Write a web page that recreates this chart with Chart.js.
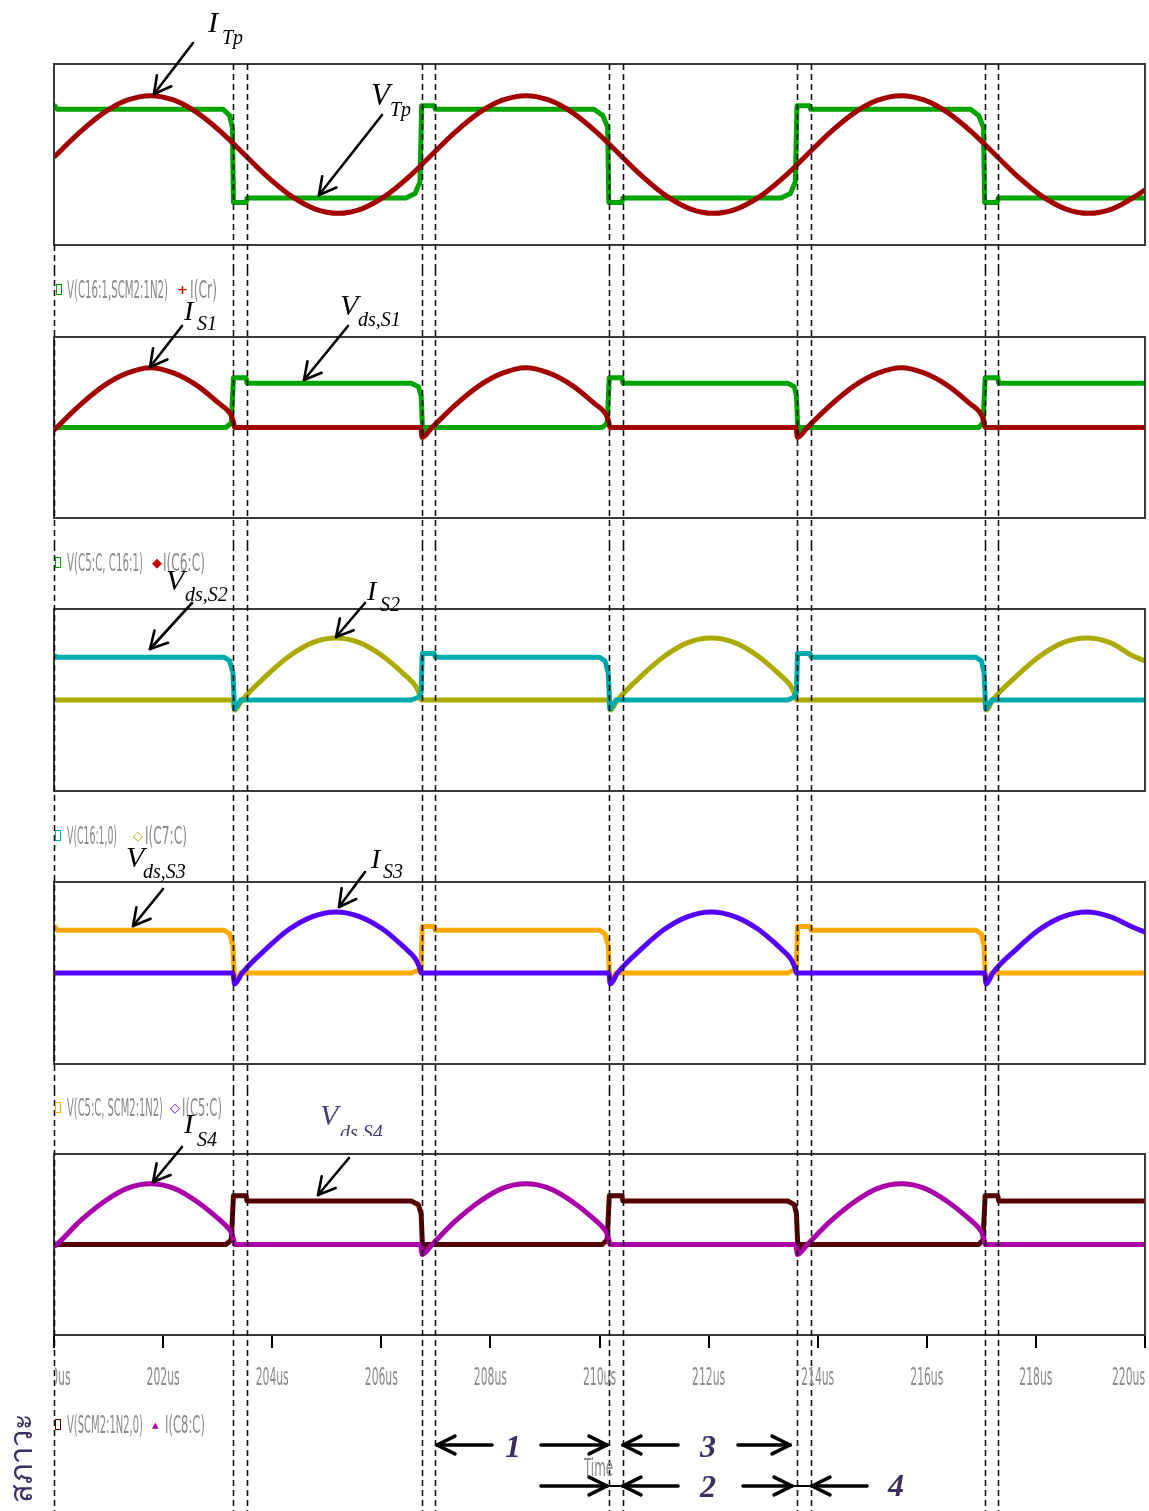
<!DOCTYPE html>
<html>
<head>
<meta charset="utf-8">
<script src="https://cdn.jsdelivr.net/npm/chart.js@4.4.1/dist/chart.umd.min.js"></script>
<style>
  html, body { margin:0; padding:0; background:#fff; }
  body { width:1149px; height:1511px; position:relative; overflow:hidden; }
  canvas { position:absolute; left:0; display:block; }
  .leg { position:absolute; white-space:nowrap; font-family:"DejaVu Sans Condensed","DejaVu Sans",sans-serif; font-size:24px; line-height:1; color:#8a8a8a; transform-origin:0 50%; }
  .mk { position:absolute; font-family:"DejaVu Sans",sans-serif; font-weight:bold; line-height:1; }
  .sq { position:absolute; width:4px; height:9px; background:#fff; }
  #ov { position:absolute; left:0; top:0; pointer-events:none; }
  #thai { position:absolute; left:21px; top:1458px; transform:translate(-50%,-50%) rotate(-90deg); font-size:31px; color:#3d2f5e; white-space:nowrap; font-family:"Noto Sans","DejaVu Sans",sans-serif; }
</style>
</head>
<body>
<canvas id="c1" width="1149" height="270" style="top:0px"></canvas>
<canvas id="c2" width="1149" height="275" style="top:270px"></canvas>
<canvas id="c3" width="1149" height="270" style="top:545px"></canvas>
<canvas id="c4" width="1149" height="275" style="top:815px"></canvas>
<canvas id="c5" width="1149" height="421" style="top:1090px"></canvas>
<div id="legs"></div>
<div id="thai">สภาวะ</div>
<svg id="ov" width="1149" height="1511" xmlns="http://www.w3.org/2000/svg"></svg>
<script>
// ---------------- DATA (time in us, normalised amplitude) ----------------
const xMin = 200, xMax = 220, xStep = 2;
const tickUnit = 'us';
const switchTimes = [203.29, 203.54, 206.74, 206.98, 210.17, 210.43, 213.62, 213.87, 217.06, 217.30];

// Panel 1 : I_Tp (transformer current) and V_Tp (transformer voltage)
const itpT = [200.00,200.05,200.48,200.91,201.34,201.77,202.20,202.63,203.06,203.49,203.92,204.35,204.78,205.21,205.64,206.07,206.50,206.93,207.36,207.79,208.22,208.65,209.08,209.51,209.94,210.37,210.80,211.23,211.66,212.09,212.52,212.95,213.38,213.81,214.24,214.67,215.10,215.53,215.96,216.39,216.82,217.25,217.68,218.11,218.54,218.97,219.40,219.83,220.00];
const itpV = [-0.03,0.00,0.25,0.46,0.60,0.65,0.60,0.46,0.25,0.00,-0.25,-0.46,-0.60,-0.65,-0.60,-0.46,-0.25,0.00,0.25,0.46,0.60,0.65,0.60,0.46,0.25,0.00,-0.25,-0.46,-0.60,-0.65,-0.60,-0.46,-0.25,0.00,0.25,0.46,0.60,0.65,0.60,0.46,0.25,0.00,-0.25,-0.46,-0.60,-0.65,-0.60,-0.46,-0.39];
const vtpT = [200.00,200.06,203.10,203.22,203.27,203.29,203.52,203.54,206.45,206.62,206.71,206.74,206.97,206.99,209.90,210.06,210.15,210.17,210.41,210.43,213.33,213.50,213.59,213.62,213.85,213.87,216.80,216.95,217.04,217.06,217.29,217.31,220.00];
const vtpV = [0.55,0.50,0.50,0.43,0.30,-0.53,-0.53,-0.48,-0.48,-0.43,-0.30,0.54,0.54,0.50,0.50,0.43,0.30,-0.53,-0.53,-0.48,-0.48,-0.43,-0.30,0.54,0.54,0.50,0.50,0.43,0.30,-0.53,-0.53,-0.48,-0.48];

// Panel 2 : I_S1 and V_ds,S1
const is1T = [200.00,200.05,200.48,200.91,201.34,201.77,202.20,202.63,203.06,203.18,203.25,203.29,203.31,206.72,206.75,206.93,207.36,207.79,208.22,208.65,209.08,209.51,209.94,210.06,210.13,210.17,210.19,213.60,213.63,213.81,214.24,214.67,215.10,215.53,215.96,216.39,216.82,216.94,217.01,217.05,217.07,220.00];
const is1V = [-0.03,0.00,0.25,0.46,0.60,0.66,0.60,0.46,0.25,0.19,0.13,0.06,0.00,0.00,-0.11,0.00,0.25,0.46,0.60,0.66,0.60,0.46,0.25,0.19,0.13,0.06,0.00,0.00,-0.11,0.00,0.25,0.46,0.60,0.66,0.60,0.46,0.25,0.19,0.13,0.06,0.00,0.00];
const vs1T = [200.00,203.15,203.25,203.29,203.52,203.54,206.55,206.68,206.73,206.76,206.80,210.05,210.14,210.18,210.41,210.43,213.45,213.57,213.61,213.64,213.68,216.95,217.03,217.07,217.30,217.32,220.00];
const vs1V = [0.00,0.00,0.05,0.55,0.55,0.49,0.49,0.45,0.35,-0.08,0.00,0.00,0.05,0.55,0.55,0.49,0.49,0.45,0.35,-0.08,0.00,0.00,0.05,0.55,0.55,0.49,0.49];

// Panel 3 : V_ds,S2 and I_S2
const vs2T = [200.00,200.06,203.12,203.22,203.28,203.31,203.36,203.42,206.55,206.68,206.73,206.75,206.97,206.99,210.00,210.10,210.16,210.19,210.24,210.30,213.45,213.56,213.61,213.63,213.86,213.88,216.90,217.00,217.05,217.08,217.13,217.19,220.00];
const vs2V = [0.49,0.47,0.47,0.43,0.30,-0.10,-0.06,0.00,0.00,0.03,0.08,0.51,0.51,0.47,0.47,0.43,0.30,-0.10,-0.06,0.00,0.00,0.03,0.08,0.51,0.51,0.47,0.47,0.43,0.30,-0.10,-0.06,0.00,0.00];
const is2T = [200.00,203.28,203.31,203.45,203.88,204.31,204.74,205.17,205.60,206.03,206.46,206.58,206.65,206.70,206.73,210.17,210.20,210.33,210.76,211.19,211.62,212.05,212.48,212.91,213.34,213.46,213.53,213.58,213.61,217.06,217.09,217.21,217.64,218.07,218.50,218.93,219.36,219.79,220.00];
const is2V = [0.00,0.00,-0.11,0.00,0.26,0.48,0.63,0.68,0.63,0.48,0.26,0.19,0.13,0.06,0.00,0.00,-0.11,0.00,0.26,0.48,0.63,0.68,0.63,0.48,0.26,0.19,0.13,0.06,0.00,0.00,-0.11,0.00,0.26,0.48,0.63,0.68,0.63,0.48,0.43];

// Panel 4 : V_ds,S3 and I_S3
const vs3T = [200.00,200.06,203.12,203.22,203.28,203.31,203.36,203.42,206.55,206.68,206.73,206.75,206.97,206.99,210.00,210.10,210.16,210.19,210.24,210.30,213.45,213.56,213.61,213.63,213.86,213.88,216.90,217.00,217.05,217.08,217.13,217.19,220.00];
const vs3V = [0.52,0.47,0.47,0.43,0.30,-0.11,-0.06,0.00,0.00,0.03,0.08,0.51,0.51,0.47,0.47,0.43,0.30,-0.11,-0.06,0.00,0.00,0.03,0.08,0.51,0.51,0.47,0.47,0.43,0.30,-0.11,-0.06,0.00,0.00];
const is3T = [200.00,203.28,203.31,203.45,203.88,204.31,204.74,205.17,205.60,206.03,206.46,206.58,206.65,206.70,206.73,210.17,210.20,210.33,210.76,211.19,211.62,212.05,212.48,212.91,213.34,213.46,213.53,213.58,213.61,217.06,217.09,217.21,217.64,218.07,218.50,218.93,219.36,219.79,220.00];
const is3V = [0.00,0.00,-0.12,0.00,0.26,0.48,0.62,0.67,0.62,0.48,0.26,0.19,0.13,0.06,0.00,0.00,-0.12,0.00,0.26,0.48,0.62,0.67,0.62,0.48,0.26,0.19,0.13,0.06,0.00,0.00,-0.12,0.00,0.26,0.48,0.62,0.67,0.62,0.50,0.45];

// Panel 5 : I_S4 and V_ds,S4
const is4T = [200.00,200.05,200.48,200.91,201.34,201.77,202.20,202.63,203.06,203.18,203.25,203.29,203.31,206.72,206.75,206.93,207.36,207.79,208.22,208.65,209.08,209.51,209.94,210.06,210.13,210.17,210.19,213.60,213.63,213.81,214.24,214.67,215.10,215.53,215.96,216.39,216.82,216.94,217.01,217.05,217.07,220.00];
const is4V = [-0.02,0.00,0.26,0.47,0.62,0.67,0.62,0.47,0.26,0.19,0.13,0.06,0.00,0.00,-0.11,0.00,0.26,0.47,0.62,0.67,0.62,0.47,0.26,0.19,0.13,0.06,0.00,0.00,-0.11,0.00,0.26,0.47,0.62,0.67,0.62,0.47,0.26,0.19,0.13,0.06,0.00,0.00];
const vs4T = [200.00,203.15,203.25,203.29,203.52,203.54,206.55,206.68,206.73,206.76,206.80,210.05,210.14,210.18,210.41,210.43,213.45,213.57,213.61,213.64,213.68,216.95,217.03,217.07,217.30,217.32,220.00];
const vs4V = [0.00,0.00,0.05,0.54,0.54,0.48,0.48,0.44,0.34,-0.09,0.00,0.00,0.05,0.54,0.54,0.48,0.48,0.44,0.34,-0.09,0.00,0.00,0.05,0.54,0.54,0.48,0.48];

// ---------------- helpers ----------------
const pts = (ts, vs) => ts.map((t, i) => ({x: t, y: vs[i]}));
function curve(ts, vs, color, smooth) {
  return { data: pts(ts, vs), borderColor: color, borderWidth: 5, pointRadius: 0, fill: false,
           cubicInterpolationMode: smooth ? 'monotone' : 'default', tension: 0,
           borderJoinStyle: 'round' };
}

function decoPlugin(first, withAxis) {
  return {
    id: 'deco',
    afterDatasetsDraw(chart) {
      const ctx = chart.ctx, a = chart.chartArea, x = chart.scales.x;
      ctx.save();
      ctx.strokeStyle = '#3a3a3a'; ctx.lineWidth = 2;
      ctx.strokeRect(a.left, a.top, a.right - a.left, a.bottom - a.top);
      ctx.setLineDash([6, 4]); ctx.lineWidth = 1.6; ctx.strokeStyle = '#111';
      const top0 = first ? a.top : 0;
      switchTimes.forEach(t => {
        const px = Math.round(x.getPixelForValue(t)) + 0.5;
        ctx.beginPath(); ctx.moveTo(px, top0); ctx.lineTo(px, chart.height); ctx.stroke();
      });
      const p0 = Math.round(x.getPixelForValue(xMin)) + 0.5;
      ctx.beginPath(); ctx.moveTo(p0, first ? a.bottom : 0); ctx.lineTo(p0, chart.height); ctx.stroke();
      ctx.restore();
    },
    afterDraw(chart) {
      if (!withAxis) return;
      const ctx = chart.ctx, sc = chart.scales.x;
      ctx.save();
      ctx.beginPath(); ctx.rect(sc.left + 1, 0, chart.width, chart.height); ctx.clip();
      ctx.font = '24px "DejaVu Sans Condensed","DejaVu Sans",sans-serif';
      ctx.fillStyle = '#8a8a8a'; ctx.textAlign = 'center'; ctx.textBaseline = 'middle';
      sc.ticks.forEach((t, i) => {
        let px = sc.getPixelForTick(i);
        const hw = ctx.measureText(t.label).width * 0.5 / 2;
        if (px + hw > sc.right) px = sc.right - hw;
        ctx.save(); ctx.translate(px, sc.top + 44); ctx.scale(0.5, 1);
        ctx.fillText(t.label, 0, 0); ctx.restore();
      });
      ctx.restore();
    }
  };
}

function makeChart(id, datasets, padTop, padBottom, withAxis, first) {
  return new Chart(document.getElementById(id), {
    type: 'line',
    data: { datasets },
    options: {
      responsive: false, animation: false, events: [], devicePixelRatio: 1,
      layout: { padding: { left: 54, right: 4, top: padTop, bottom: padBottom } },
      plugins: { legend: { display: false }, tooltip: { enabled: false } },
      scales: {
        x: {
          type: 'linear', min: xMin, max: xMax, display: withAxis,
          afterFit: withAxis ? (ax => { ax.height = 176; }) : undefined,
          ticks: { display: false, stepSize: xStep, callback: v => v + tickUnit },
          grid: { display: true, drawOnChartArea: false, drawTicks: true, tickLength: 13, color: '#000', lineWidth: 2 },
          border: { display: true, color: '#3a3a3a', width: 2 }
        },
        y: { min: -1, max: 1, display: false }
      }
    },
    plugins: [decoPlugin(first, withAxis)]
  });
}

makeChart('c1', [curve(itpT, itpV, '#a30000', true), curve(vtpT, vtpV, '#00a400', false)], 64, 25, false, true);
makeChart('c2', [curve(is1T, is1V, '#a30000', true), curve(vs1T, vs1V, '#00a400', false)], 67, 27, false, false);
makeChart('c3', [curve(vs2T, vs2V, '#00aaaa', false), curve(is2T, is2V, '#aaaa00', true)], 64, 24, false, false);
makeChart('c4', [curve(is3T, is3V, '#5500ff', true), curve(vs3T, vs3V, '#ffaa00', false)], 67, 26, false, false);
makeChart('c5', [curve(is4T, is4V, '#aa00aa', true), curve(vs4T, vs4V, '#550000', false)], 64, 0, true, false);

// ---------------- probe legends (simulator trace names) ----------------
const legendRows = [
  { y: 290, items: [ {k:'sq', c:'#00a400', x:56}, {k:'t', s:'V(C16:1,SCM2:1N2)', x:67, w:101}, {k:'g', s:'+', c:'#c00000', x:177}, {k:'t', s:'I(Cr)', x:190, w:27} ] },
  { y: 563, items: [ {k:'sq', c:'#00a400', x:55}, {k:'t', s:'V(C5:C, C16:1)', x:67, w:76}, {k:'g', s:'◆', c:'#c00000', x:152}, {k:'t', s:'I(C6:C)', x:163, w:42} ] },
  { y: 836, items: [ {k:'sq', c:'#00aaaa', x:55}, {k:'t', s:'V(C16:1,0)', x:67, w:50}, {k:'g', s:'◇', c:'#aaaa00', x:133}, {k:'t', s:'I(C7:C)', x:145, w:42} ] },
  { y:1108, items: [ {k:'sq', c:'#ffaa00', x:55}, {k:'t', s:'V(C5:C, SCM2:1N2)', x:67, w:96}, {k:'g', s:'◇', c:'#5500ff', x:170}, {k:'t', s:'I(C5:C)', x:182, w:40} ] },
  { y:1425, items: [ {k:'sq', c:'#550000', x:55}, {k:'t', s:'V(SCM2:1N2,0)', x:67, w:76}, {k:'g', s:'▴', c:'#aa00aa', x:152}, {k:'t', s:'I(C8:C)', x:165, w:40} ] },
  { y:1468, items: [ {k:'t', s:'Time', x:584, w:29} ] }
];
const legs = document.getElementById('legs');
legendRows.forEach(r => r.items.forEach(it => {
  const d = document.createElement('div');
  if (it.k === 'sq') {
    d.className = 'sq'; d.style.left = it.x + 'px'; d.style.top = (r.y - 6) + 'px';
    d.style.border = '1.5px solid ' + it.c;
  } else if (it.k === 'g') {
    d.className = 'mk'; d.textContent = it.s; d.style.color = it.c; d.style.fontSize = '13px';
    d.style.left = it.x + 'px'; d.style.top = (r.y - 7) + 'px';
  } else {
    d.className = 'leg'; d.textContent = it.s; d.style.left = it.x + 'px'; d.style.top = (r.y - 12) + 'px';
    legs.appendChild(d);
    const w = d.getBoundingClientRect().width;
    d.style.transform = 'scaleX(' + (it.w / w) + ')';
    return;
  }
  legs.appendChild(d);
}));

// ---------------- annotations ----------------
const NS = 'http://www.w3.org/2000/svg';
const svg = document.getElementById('ov');
const defs = document.createElementNS(NS, 'defs');
defs.innerHTML = '<clipPath id="cut"><rect x="300" y="1090" width="120" height="46"/></clipPath>';
svg.appendChild(defs);
function el(tag, attrs, parent) {
  const e = document.createElementNS(NS, tag);
  for (const k in attrs) e.setAttribute(k, attrs[k]);
  (parent || svg).appendChild(e); return e;
}
function line(x1, y1, x2, y2, w, col) {
  el('line', {x1, y1, x2, y2, stroke: col || '#000', 'stroke-width': w, 'stroke-linecap': 'round'});
}
function arrow(x1, y1, x2, y2, w, hl, ha) {
  line(x1, y1, x2, y2, w);
  const a = Math.atan2(y2 - y1, x2 - x1);
  [-1, 1].forEach(s => {
    const b = a + Math.PI + s * ha;
    line(x2, y2, x2 + hl * Math.cos(b), y2 + hl * Math.sin(b), w);
  });
}
function txt(s, x, y, size, opts) {
  opts = opts || {};
  const t = el('text', { x, y, 'font-family': '"Liberation Serif","DejaVu Serif",serif', 'font-style': 'italic',
    'font-size': size, fill: opts.fill || '#000', 'font-weight': opts.bold ? 'bold' : 'normal',
    'text-anchor': opts.anchor || 'start' }, opts.parent);
  if (opts.clip) t.setAttribute('clip-path', 'url(#cut)');
  t.textContent = s; return t;
}

const labels = [
  { m:'I', mx:208, my:32,  ms:30, sub:'Tp',    sx:222, sy:44,  tail:[193,43],   tip:[154,94] },
  { m:'V', mx:371, my:105, ms:31, sub:'Tp',    sx:390, sy:116, tail:[382,115],  tip:[319,195] },
  { m:'I', mx:184, my:320, ms:28, sub:'S1',    sx:197, sy:330, tail:[182,326],  tip:[150,367] },
  { m:'V', mx:340, my:315, ms:30, sub:'ds,S1', sx:358, sy:326, tail:[348,326],  tip:[304,380] },
  { m:'V', mx:166, my:590, ms:30, sub:'ds,S2', sx:185, sy:601, tail:[192,603],  tip:[150,649] },
  { m:'I', mx:367, my:600, ms:28, sub:'S2',    sx:380, sy:611, tail:[365,603],  tip:[336,637] },
  { m:'V', mx:126, my:867, ms:30, sub:'ds,S3', sx:143, sy:878, tail:[163,889],  tip:[133,926] },
  { m:'I', mx:371, my:868, ms:28, sub:'S3',    sx:383, sy:878, tail:[365,872],  tip:[339,907] },
  { m:'I', mx:184, my:1133,ms:28, sub:'S4',    sx:197, sy:1146,tail:[182,1147], tip:[153,1182] },
  { m:'V', mx:320, my:1125,ms:30, sub:'ds S4', sx:340, sy:1139,tail:[349,1158], tip:[318,1195], fill:'#4a3d6a', clip:true }
];
labels.forEach(l => {
  txt(l.m, l.mx, l.my, l.ms, { fill: l.fill });
  txt(l.sub, l.sx, l.sy, 20, { fill: l.fill, clip: l.clip });
  arrow(l.tail[0], l.tail[1], l.tip[0], l.tip[1], 2.6, 19, 0.5);
});

// operating-interval markers
const numCol = '#3d2f5e';
function hArrow(x1, x2, y) { arrow(x1, y, x2, y, 3.6, 20, 0.46); }
hArrow(492, 437, 1445); txt('1', 513, 1457, 32, {fill:numCol, bold:true, anchor:'middle'}); hArrow(541, 607, 1445);
hArrow(678, 623, 1445); txt('3', 708, 1457, 32, {fill:numCol, bold:true, anchor:'middle'}); hArrow(738, 790, 1445);
hArrow(541, 607, 1486); line(607, 1486, 623, 1486, 2); hArrow(678, 623, 1486);
txt('2', 708, 1497, 32, {fill:numCol, bold:true, anchor:'middle'});
hArrow(743, 792, 1486); line(792, 1486, 812, 1486, 2); hArrow(867, 812, 1486);
txt('4', 896, 1496, 32, {fill:numCol, bold:true, anchor:'middle'});
</script>
</body>
</html>
